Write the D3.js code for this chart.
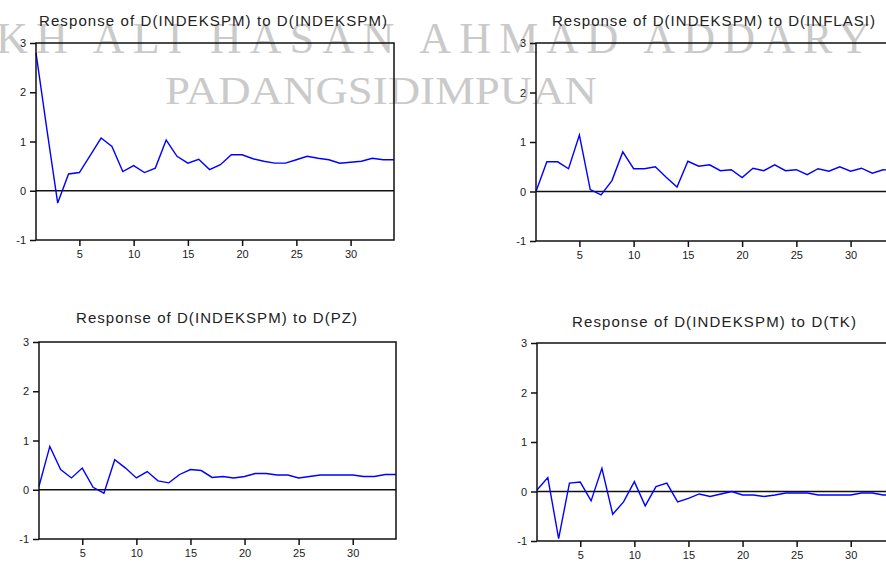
<!DOCTYPE html>
<html>
  <head>
    <meta charset="utf-8" />
    <script src="https://d3js.org/d3.v7.min.js"></script>
    <style>
      body {
        margin: 0;
        background: #ffffff;
        font-family: "Liberation Sans", Arial, sans-serif;
      }
    </style>
  </head>
  <body>
    <svg id="irf" width="886" height="563"></svg>

    <script>
      // impulse responses, periods 1..34
      var periods = d3.range(1, 35);
      var respIndekspm = [
        2.8, 1.25, -0.25, 0.34, 0.37, 0.72, 1.07, 0.9, 0.39, 0.51, 0.37, 0.46,
        1.03, 0.7, 0.56, 0.64, 0.43, 0.53, 0.73, 0.73, 0.65, 0.6, 0.56, 0.56,
        0.63, 0.7, 0.66, 0.63, 0.56, 0.58, 0.6, 0.66, 0.63, 0.63,
      ];
      var respInflasi = [
        0, 0.6, 0.6, 0.46, 1.14, 0.04, -0.07, 0.22, 0.8, 0.46, 0.46, 0.5, 0.29,
        0.09, 0.61, 0.51, 0.54, 0.42, 0.44, 0.28, 0.47, 0.42, 0.54, 0.42, 0.44,
        0.34, 0.46, 0.41, 0.5, 0.41, 0.47, 0.37, 0.44, 0.43,
      ];
      var respPz = [
        0.07, 0.88, 0.41, 0.24, 0.44, 0.05, -0.07, 0.61, 0.44, 0.24, 0.37, 0.18,
        0.14, 0.31, 0.41, 0.39, 0.25, 0.27, 0.24, 0.27, 0.33, 0.33, 0.3, 0.3,
        0.24, 0.27, 0.3, 0.3, 0.3, 0.3, 0.27, 0.27, 0.31, 0.31,
      ];
      var respTk = [
        0.03, 0.28, -0.95, 0.17, 0.19, -0.19, 0.47, -0.46, -0.21, 0.2, -0.29,
        0.1, 0.17, -0.21, -0.14, -0.05, -0.1, -0.05, 0, -0.07, -0.07, -0.1,
        -0.07, -0.03, -0.03, -0.03, -0.07, -0.07, -0.07, -0.07, -0.03, -0.03,
        -0.07, -0.07,
      ];
      var titles = [
        "Response of D(INDEKSPM) to D(INDEKSPM)",
        "Response of D(INDEKSPM) to D(INFLASI)",
        "Response of D(INDEKSPM) to D(PZ)",
        "Response of D(INDEKSPM) to D(TK)",
      ];
      var yTicks = [-1, 0, 1, 2, 3];
      var xTicks = [5, 10, 15, 20, 25, 30];

      var series = [respIndekspm, respInflasi, respPz, respTk];
      // plot boxes: left, top, width, height, title x0, x1, baseline
      var boxes = [
        { x: 36, y: 43, w: 358, h: 197, tx0: 39, tx1: 387, ty: 26 },
        { x: 536, y: 43, w: 358, h: 198, tx0: 552, tx1: 875, ty: 26 },
        { x: 39, y: 342, w: 357, h: 197, tx0: 76, tx1: 357, ty: 323 },
        { x: 537, y: 343, w: 357, h: 198, tx0: 572, tx1: 856, ty: 327 },
      ];

      var canvas = d3.select("#irf");

      // watermark behind the charts
      var wm = canvas.append("g").attr("class", "watermark");
      wm.append("text")
        .attr("x", -4)
        .attr("y", 53)
        .attr("textLength", 874)
        .attr("lengthAdjust", "spacing")
        .style("font-family", "Liberation Serif, serif")
        .style("font-size", "44px")
        .style("fill", "#cacaca")
        .text("KH ALI HASAN AHMAD ADDARY");
      wm.append("text")
        .attr("x", 165)
        .attr("y", 104)
        .attr("textLength", 432)
        .attr("lengthAdjust", "spacingAndGlyphs")
        .style("font-family", "Liberation Serif, serif")
        .style("font-size", "40px")
        .style("fill", "#cacaca")
        .text("PADANGSIDIMPUAN");

      series.forEach(function (vals, i) {
        var b = boxes[i];
        var group = canvas
          .append("g")
          .attr("transform", "translate(" + b.x + "," + b.y + ")");

        var xScale = d3.scaleLinear().domain([1, 34]).range([0, b.w]);
        var yScale = d3.scaleLinear().domain([-1, 3]).range([b.h, 0]);

        var yAxis = d3
          .axisLeft(yScale)
          .tickValues(yTicks)
          .tickFormat(function (d) { return d < 0 ? "-" + Math.abs(d) : String(d); })
          .tickSize(6)
          .tickPadding(4);
        var xAxis = d3
          .axisBottom(xScale)
          .tickValues(xTicks)
          .tickFormat(d3.format("d"))
          .tickSize(6)
          .tickPadding(4);

        var gy = group.append("g").call(yAxis);
        var gx = group.append("g").attr("transform", "translate(0," + b.h + ")").call(xAxis);

        [gy, gx].forEach(function (g) {
          g.select(".domain").remove();
          g.selectAll("line").style("stroke", "#111").style("stroke-width", "1.5px");
          g.selectAll("text")
            .style("font-family", "Liberation Sans, Arial, sans-serif")
            .style("font-size", "11px")
            .style("fill", "#1a1a1a");
        });

        group
          .append("line")
          .attr("x1", 0)
          .attr("x2", b.w)
          .attr("y1", yScale(0))
          .attr("y2", yScale(0))
          .style("stroke", "#111")
          .style("stroke-width", "1.5px");

        var line = d3
          .line()
          .x(function (d, j) { return xScale(periods[j]); })
          .y(function (d) { return yScale(d); });

        group
          .append("path")
          .datum(vals)
          .attr("d", line)
          .style("fill", "none")
          .style("stroke", "#0000ff")
          .style("stroke-width", "1.4px");

        group
          .append("rect")
          .attr("width", b.w)
          .attr("height", b.h)
          .style("fill", "none")
          .style("stroke", "#111")
          .style("stroke-width", "1.5px");

        canvas
          .append("text")
          .attr("x", b.tx0)
          .attr("y", b.ty)
          .attr("textLength", b.tx1 - b.tx0)
          .attr("lengthAdjust", "spacing")
          .style("font-family", "Liberation Sans, Arial, sans-serif")
          .style("font-size", "15px")
          .style("fill", "#222")
          .text(titles[i]);
      });
    </script>
  </body>
</html>
